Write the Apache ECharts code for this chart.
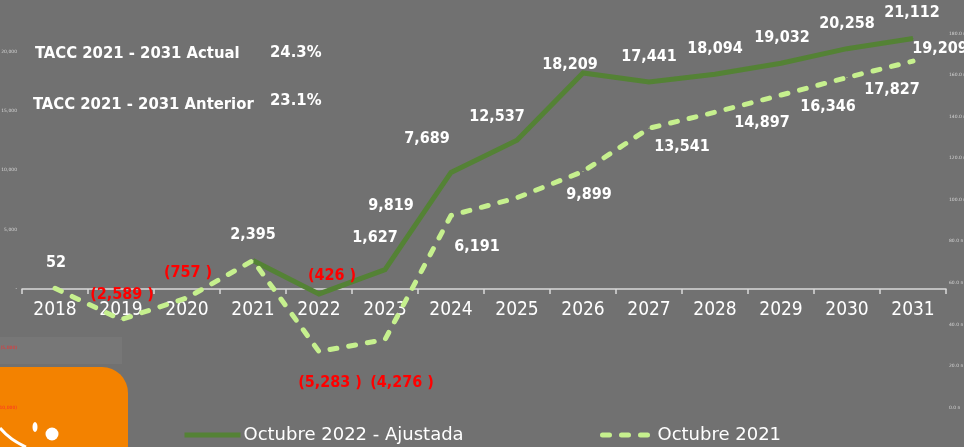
<!DOCTYPE html>
<html>
<head>
<meta charset="utf-8">
<script src="https://cdn.jsdelivr.net/npm/echarts@6/dist/echarts.min.js"></script>
<style>
html,body{margin:0;padding:0;background:#717171;}
#c{width:964px;height:447px;}
</style>
</head>
<body>
<div id="c"></div>
<script>
// ---- data ----
const years = ['2018','2019','2020','2021','2022','2023','2024','2025','2026','2027','2028','2029','2030','2031'];
const ajustada = [null, null, null, 2395, -426, 1627, 9819, 12537, 18209, 17441, 18094, 19032, 20258, 21112];
const anterior = [52, -2589, -757, 2395, -5283, -4276, 6191, 7689, 9899, 13541, 14897, 16346, 17827, 19209];
const seriesNames = ['Octubre 2022 - Ajustada', 'Octubre 2021'];
const taccLabels = ['TACC 2021 - 2031 Actual', 'TACC 2021 - 2031 Anterior'];
const taccValues = ['24.3%', '23.1%'];

// ---- layout of data labels (pixel offsets from each point) ----
const ajustadaLabelOffsets = [null,null,null,[0,-26],[13,-18],[-10,-32],[-60,33],[-20,-23],[-13,-8],[0,-25],[0,-25],[1,-25],[0,-25],[-1,-26]];
const anteriorLabelOffsets = [[1,-25],[1,-25],[1,-25],null,[11,31],[17,43],[26,31],[-90,-59],[6,23],[33,19],[47,11],[47,12],[45,12],[27,-12]];

function fmt(v){ return Math.abs(v).toLocaleString('en-US'); }
function labelText(v){ return v < 0 ? '(' + fmt(v) + ' )' : fmt(v); }

function buildData(values, offsets){
  return values.map((v, i) => {
    if (v === null) return null;
    const off = offsets[i];
    return {
      value: v,
      label: off ? { show: true, offset: off, color: v < 0 ? '#ff0000' : '#ffffff' } : { show: false }
    };
  });
}

const labelFont = { fontFamily: 'DejaVu Sans Condensed', fontWeight: 'bold', fontSize: 16 };
const taccFont = 'bold 16.5px "DejaVu Sans Condensed"';

const chart = echarts.init(document.getElementById('c'), null, { renderer: 'canvas' });
chart.setOption({
  backgroundColor: '#717171',
  animation: false,
  grid: { left: 22, right: 18, top: 28, bottom: 39.5, containLabel: false, outerBoundsMode: 'none' },
  graphic: [
    { type: 'rect', z: -10, shape: { x: 0, y: 337, width: 122, height: 27 }, style: { fill: '#777777' } },
    { type: 'rect', z: -9, shape: { x: -30, y: 367, width: 158, height: 100, r: [0, 26, 0, 0] }, style: { fill: '#f38200' } },
    { type: 'circle', z: -8, shape: { cx: 52, cy: 434, r: 6.5 }, style: { fill: '#ffffff' } },
    { type: 'ellipse', z: -8, shape: { cx: 35, cy: 427, rx: 2.5, ry: 5 }, style: { fill: '#ffffff' } },
    { type: 'bezierCurve', z: -8, shape: { x1: 0, y1: 428, x2: 26, y2: 447, cpx1: 10, cpy1: 440 }, style: { stroke: '#ffffff', lineWidth: 3, fill: null } },
    { type: 'text', left: 35, top: 45, style: { text: taccLabels[0], fill: '#ffffff', font: taccFont } },
    { type: 'text', left: 270, top: 44, style: { text: taccValues[0], fill: '#ffffff', font: taccFont } },
    { type: 'text', left: 33, top: 96, style: { text: taccLabels[1], fill: '#ffffff', font: taccFont } },
    { type: 'text', left: 270, top: 92, style: { text: taccValues[1], fill: '#ffffff', font: taccFont } }
  ],
  legend: [
    { data: [seriesNames[0]], left: 182, top: 426, padding: 0, itemWidth: 56, itemHeight: 6, itemGap: 0,
      itemStyle: { opacity: 0 }, lineStyle: { width: 5 },
      textStyle: { color: '#ffffff', fontSize: 18, fontFamily: 'DejaVu Sans', padding: [0,0,0,-2] } },
    { data: [seriesNames[1]], left: 600, top: 426, padding: 0, itemWidth: 52, itemHeight: 6, itemGap: 0,
      itemStyle: { opacity: 0 }, lineStyle: { width: 5, cap: 'round' },
      textStyle: { color: '#ffffff', fontSize: 18, fontFamily: 'DejaVu Sans', padding: [0,0,0,-2] } }
  ],
  xAxis: {
    type: 'category',
    data: years,
    boundaryGap: true,
    position: 'bottom',
    offset: -118.5,
    axisLine: { onZero: false, lineStyle: { color: '#d9d9d9', width: 1.5 } },
    axisTick: { show: true, length: 5, lineStyle: { color: '#d9d9d9', width: 1.5 } },
    axisLabel: { color: '#ffffff', fontSize: 19, fontFamily: 'DejaVu Sans Condensed', margin: 12 }
  },
  yAxis: [
    {
      type: 'value', min: -10000, max: 22000, interval: 5000,
      splitLine: { show: false }, axisLine: { show: false }, axisTick: { show: false },
      axisLabel: {
        showMaxLabel: false, margin: 5, fontSize: 4.5, fontFamily: 'DejaVu Sans',
        color: v => (v < 0 ? '#ff2a2a' : '#d6d6d6'),
        formatter: v => (v === 0 ? '-' : v < 0 ? '(' + fmt(v) + ')' : fmt(v))
      }
    },
    {
      type: 'value', position: 'right', min: 0, max: 182.7, interval: 20,
      splitLine: { show: false }, axisLine: { show: false }, axisTick: { show: false },
      axisLabel: {
        showMaxLabel: false, margin: 3, fontSize: 4.5, fontFamily: 'DejaVu Sans', color: '#d6d6d6',
        formatter: v => v.toFixed(1) + ' n'
      }
    }
  ],
  series: [
    {
      name: seriesNames[0], type: 'line', data: buildData(ajustada, ajustadaLabelOffsets),
      symbol: 'circle', symbolSize: 1, showSymbol: true,
      itemStyle: { color: '#548235' },
      lineStyle: { color: '#548235', width: 5, join: 'miter' },
      label: Object.assign({ position: 'inside', formatter: p => labelText(p.value) }, labelFont),
      z: 3
    },
    {
      name: seriesNames[1], type: 'line', data: buildData(anterior, anteriorLabelOffsets),
      symbol: 'circle', symbolSize: 1, showSymbol: true,
      itemStyle: { color: '#c6f08e' },
      lineStyle: { color: '#c6f08e', width: 5, type: [7, 12], cap: 'round', join: 'round' },
      label: Object.assign({ position: 'inside', formatter: p => labelText(p.value) }, labelFont),
      z: 4
    }
  ]
});
</script>
</body>
</html>
